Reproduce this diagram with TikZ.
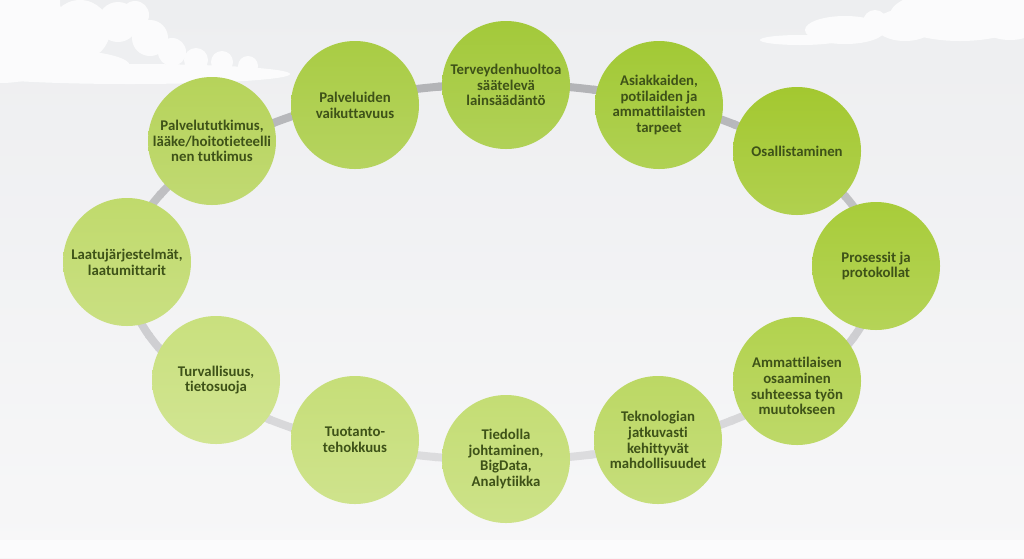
\documentclass[tikz,border=0pt]{standalone}
\usepackage{fontspec}
\setmainfont{Carlito}[Ligatures={NoCommon,NoRequired,NoContextual}]
\definecolor{bgtop}{HTML}{EDEEF0}
\definecolor{bgbot}{HTML}{F7F7F8}
\definecolor{ringD}{HTML}{B3B4B7}
\definecolor{ringL}{HTML}{DCDCDE}
\definecolor{txt}{HTML}{3E5218}
\definecolor{g1}{HTML}{A3C93A}
\definecolor{g2}{HTML}{A2C935}
\definecolor{g3}{HTML}{A3C830}
\definecolor{g4}{HTML}{A8CC3A}
\definecolor{g5}{HTML}{B2D24E}
\definecolor{g6}{HTML}{BCD864}
\definecolor{g7}{HTML}{C4DD74}
\definecolor{g8}{HTML}{C6DE78}
\definecolor{g9}{HTML}{C9E07E}
\definecolor{g10}{HTML}{C0DA6C}
\definecolor{g11}{HTML}{B6D35A}
\definecolor{g12}{HTML}{A9CC44}
\tikzset{
  topic/.style={circle, minimum size=128pt, inner sep=0pt, align=center,
    font=\fontsize{14.8}{15.8}\selectfont\bfseries, text=txt,
    top color=#1, bottom color=#1!85!white, shading angle=0},
  cloud/.style={fill=white, draw=none}
}
\begin{document}
\begin{tikzpicture}[x=1pt,y=-1pt]
\useasboundingbox (0,0) rectangle (1024,558);
\shade[top color=bgtop, bottom color=bgbot] (0,0) rectangle (1024,558);
\fill[white, opacity=0.6] (0,540) rectangle (1024,558);
% clouds
\begin{scope}[opacity=0.8, transparency group]
\fill[cloud] (0,0) -- (60,0) -- (60,40) -- (0,60) -- cycle;
\fill[cloud] (0,45) ellipse [x radius=70, y radius=38];
\fill[cloud] (35,18) circle [radius=28];
\fill[cloud] (80,30) circle [radius=30];
\fill[cloud] (118,22) circle [radius=20];
\fill[cloud] (135,15) circle [radius=14];
\fill[cloud] (150,38) circle [radius=18];
\fill[cloud] (172,52) circle [radius=14];
\fill[cloud] (196,60) circle [radius=12];
\fill[cloud] (222,62) circle [radius=11];
\fill[cloud] (248,66) circle [radius=10];
\fill[cloud] (130,74) ellipse [x radius=160, y radius=10];
\fill[cloud] (60,66) ellipse [x radius=70, y radius=16];
\fill[cloud] (800,40) ellipse [x radius=40, y radius=5];
\fill[cloud] (845,30) ellipse [x radius=40, y radius=14];
\fill[cloud] (875,22) circle [radius=12];
\fill[cloud] (905,25) ellipse [x radius=30, y radius=16];
\fill[cloud] (960,15) ellipse [x radius=70, y radius=26];
\fill[cloud] (1010,10) ellipse [x radius=40, y radius=30];
\end{scope}
% ring
\foreach \a in {0,4,...,356}{
  \pgfmathsetmacro\m{50-50*sin(\a+2)}
  \draw[line width=8pt, color=ringD!\m!ringL]
    ([shift={(502,272)}]\a:375 and 188) arc[start angle=\a, end angle=\a+4.6, x radius=375, y radius=188];
}
% topics
\node[topic=g1]  (t1)  at (506,85)  {Terveydenhuoltoa\\säätelevä\\lainsäädäntö};
\node[topic=g2]  (t2)  at (659,105) {Asiakkaiden,\\potilaiden ja\\ammattilaisten\\tarpeet};
\node[topic=g3]  (t3)  at (797,151) {Osallistaminen};
\node[topic=g4]  (t4)  at (876,266) {Prosessit ja\\protokollat};
\node[topic=g5]  (t5)  at (797,381) {};
\node[font=\fontsize{14.8}{15.8}\selectfont\bfseries, text=txt, align=center] (l5) at (797,386) {Ammattilaisen\\osaaminen\\suhteessa työn\\muutokseen};
\node[topic=g6]  (t6)  at (658,440) {Teknologian\\jatkuvasti\\kehittyvät\\mahdollisuudet};
\node[topic=g7]  (t7)  at (506,459) {Tiedolla\\johtaminen,\\BigData,\\Analytiikka};
\node[topic=g8]  (t8)  at (355,440) {Tuotanto-\\tehokkuus};
\node[topic=g9]  (t9)  at (216,380) {Turvallisuus,\\tietosuoja};
\node[topic=g10] (t10) at (127,262) {Laatujärjestelmät,\\laatumittarit};
\node[topic=g11] (t11) at (212,141) {Palvelututkimus,\\lääke/hoitotieteelli\\nen tutkimus};
\node[topic=g12] (t12) at (355,105) {Palveluiden\\vaikuttavuus};
\end{tikzpicture}
\end{document}
